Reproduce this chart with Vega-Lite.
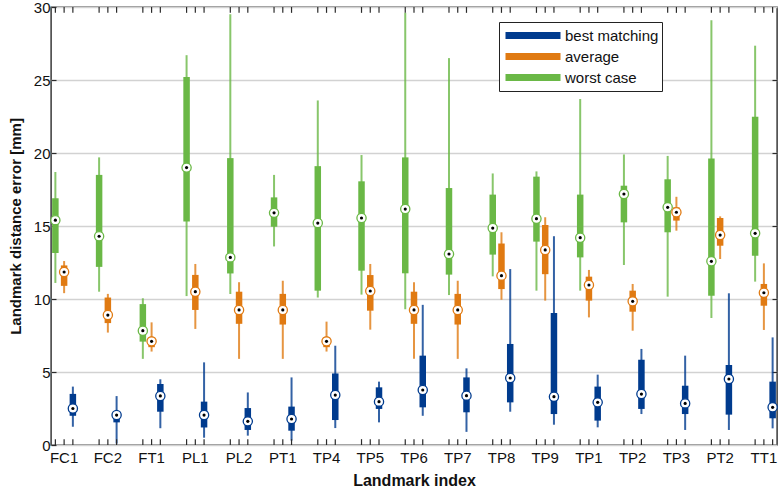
{
  "$schema": "https://vega.github.io/schema/vega-lite/v6.json",
  "width": 726,
  "height": 438,
  "autosize": {"type": "none"},
  "padding": {"left": 51, "top": 7, "right": 3, "bottom": 46},
  "background": "white",
  "config": {
    "view": {"stroke": "#2b2b2b", "strokeWidth": 1.4},
    "font": "Liberation Sans",
    "axis": {"domain": false, "labelFont": "Liberation Sans", "titleFont": "Liberation Sans"}
  },
  "datasets": {
    "boxes": [
      {"lm": "FC1", "series": "worst case", "lo": 11.1, "q1": 13.15, "med": 15.4, "q3": 16.9, "hi": 18.7},
      {"lm": "FC1", "series": "average", "lo": 10.4, "q1": 10.9, "med": 11.85, "q3": 12.3, "hi": 12.6},
      {"lm": "FC1", "series": "best matching", "lo": 1.25, "q1": 2.0, "med": 2.5, "q3": 3.5, "hi": 4.0},
      {"lm": "FC2", "series": "worst case", "lo": 10.5, "q1": 12.2, "med": 14.3, "q3": 18.5, "hi": 19.7},
      {"lm": "FC2", "series": "average", "lo": 7.7, "q1": 8.35, "med": 8.9, "q3": 10.1, "hi": 10.35},
      {"lm": "FC2", "series": "best matching", "lo": 0.1, "q1": 1.55, "med": 2.05, "q3": 2.3, "hi": 3.35},
      {"lm": "FT1", "series": "worst case", "lo": 5.9, "q1": 7.08, "med": 7.83, "q3": 9.65, "hi": 10.05},
      {"lm": "FT1", "series": "average", "lo": 6.4, "q1": 6.7, "med": 7.1, "q3": 7.33, "hi": 8.4},
      {"lm": "FT1", "series": "best matching", "lo": 1.15, "q1": 2.28, "med": 3.36, "q3": 4.18, "hi": 4.5},
      {"lm": "PL1", "series": "worst case", "lo": 10.2, "q1": 15.3, "med": 19.0, "q3": 25.2, "hi": 26.7},
      {"lm": "PL1", "series": "average", "lo": 7.95, "q1": 9.25, "med": 10.5, "q3": 11.65, "hi": 12.4},
      {"lm": "PL1", "series": "best matching", "lo": 0.5, "q1": 1.2, "med": 2.05, "q3": 2.97, "hi": 5.66},
      {"lm": "PL2", "series": "worst case", "lo": 10.35, "q1": 11.75, "med": 12.85, "q3": 19.65, "hi": 29.5},
      {"lm": "PL2", "series": "average", "lo": 5.9, "q1": 8.3, "med": 9.25, "q3": 10.5, "hi": 11.15},
      {"lm": "PL2", "series": "best matching", "lo": 0.64, "q1": 1.03, "med": 1.62, "q3": 2.53, "hi": 3.6},
      {"lm": "PT1", "series": "worst case", "lo": 13.6, "q1": 14.95, "med": 15.9, "q3": 16.96, "hi": 18.5},
      {"lm": "PT1", "series": "average", "lo": 5.9, "q1": 8.25, "med": 9.25, "q3": 10.35, "hi": 11.25},
      {"lm": "PT1", "series": "best matching", "lo": 0.3, "q1": 0.98, "med": 1.78, "q3": 2.63, "hi": 4.63},
      {"lm": "TP4", "series": "worst case", "lo": 10.1, "q1": 10.57, "med": 15.2, "q3": 19.1, "hi": 23.6},
      {"lm": "TP4", "series": "average", "lo": 6.4, "q1": 6.7, "med": 7.1, "q3": 7.37, "hi": 8.45},
      {"lm": "TP4", "series": "best matching", "lo": 1.16, "q1": 1.71, "med": 3.42, "q3": 4.9, "hi": 6.8},
      {"lm": "TP5", "series": "worst case", "lo": 10.3, "q1": 11.94, "med": 15.55, "q3": 18.06, "hi": 19.86},
      {"lm": "TP5", "series": "average", "lo": 7.9, "q1": 9.2, "med": 10.55, "q3": 11.64, "hi": 12.4},
      {"lm": "TP5", "series": "best matching", "lo": 1.55, "q1": 2.47, "med": 2.97, "q3": 3.95, "hi": 4.34},
      {"lm": "TP6", "series": "worst case", "lo": 9.3, "q1": 11.76, "med": 16.16, "q3": 19.7, "hi": 29.6},
      {"lm": "TP6", "series": "average", "lo": 5.9, "q1": 8.3, "med": 9.25, "q3": 10.5, "hi": 11.15},
      {"lm": "TP6", "series": "best matching", "lo": 2.0, "q1": 2.58, "med": 3.77, "q3": 6.12, "hi": 9.6},
      {"lm": "TP7", "series": "worst case", "lo": 10.27, "q1": 11.67, "med": 13.08, "q3": 17.6, "hi": 26.5},
      {"lm": "TP7", "series": "average", "lo": 5.9, "q1": 8.25, "med": 9.25, "q3": 10.35, "hi": 11.25},
      {"lm": "TP7", "series": "best matching", "lo": 0.9, "q1": 2.24, "med": 3.38, "q3": 4.63, "hi": 5.25},
      {"lm": "TP8", "series": "worst case", "lo": 11.55, "q1": 13.04, "med": 14.86, "q3": 17.15, "hi": 18.6},
      {"lm": "TP8", "series": "average", "lo": 9.95, "q1": 10.68, "med": 11.6, "q3": 13.8, "hi": 14.57},
      {"lm": "TP8", "series": "best matching", "lo": 2.28, "q1": 2.92, "med": 4.59, "q3": 6.92, "hi": 12.05},
      {"lm": "TP9", "series": "worst case", "lo": 10.57, "q1": 13.93, "med": 15.5, "q3": 18.38, "hi": 18.74},
      {"lm": "TP9", "series": "average", "lo": 9.89, "q1": 11.7, "med": 13.36, "q3": 15.07, "hi": 15.6},
      {"lm": "TP9", "series": "best matching", "lo": 1.39, "q1": 2.12, "med": 3.31, "q3": 9.04, "hi": 14.3},
      {"lm": "TP1", "series": "worst case", "lo": 10.57, "q1": 12.85, "med": 14.2, "q3": 17.15, "hi": 23.7},
      {"lm": "TP1", "series": "average", "lo": 8.74, "q1": 9.89, "med": 10.96, "q3": 11.53, "hi": 11.99},
      {"lm": "TP1", "series": "best matching", "lo": 1.21, "q1": 1.67, "med": 2.92, "q3": 4.0, "hi": 4.82},
      {"lm": "TP2", "series": "worst case", "lo": 12.33, "q1": 15.25, "med": 17.19, "q3": 17.76, "hi": 19.9},
      {"lm": "TP2", "series": "average", "lo": 7.83, "q1": 9.13, "med": 9.84, "q3": 10.57, "hi": 11.03},
      {"lm": "TP2", "series": "best matching", "lo": 2.12, "q1": 2.47, "med": 3.49, "q3": 5.84, "hi": 6.58},
      {"lm": "TP3", "series": "worst case", "lo": 10.16, "q1": 14.57, "med": 16.28, "q3": 18.2, "hi": 19.8},
      {"lm": "TP3", "series": "average", "lo": 14.68, "q1": 15.37, "med": 15.94, "q3": 16.28, "hi": 17.0},
      {"lm": "TP3", "series": "best matching", "lo": 1.03, "q1": 2.12, "med": 2.85, "q3": 4.06, "hi": 6.12},
      {"lm": "PT2", "series": "worst case", "lo": 8.7, "q1": 10.23, "med": 12.58, "q3": 19.63, "hi": 29.1},
      {"lm": "PT2", "series": "average", "lo": 12.74, "q1": 13.65, "med": 14.38, "q3": 15.55, "hi": 15.66},
      {"lm": "PT2", "series": "best matching", "lo": 1.03, "q1": 2.08, "med": 4.52, "q3": 5.48, "hi": 10.39},
      {"lm": "TT1", "series": "worst case", "lo": 11.19, "q1": 12.97, "med": 14.5, "q3": 22.49, "hi": 27.35},
      {"lm": "TT1", "series": "average", "lo": 7.88, "q1": 9.54, "med": 10.43, "q3": 11.03, "hi": 12.44},
      {"lm": "TT1", "series": "best matching", "lo": 1.14, "q1": 1.83, "med": 2.58, "q3": 4.34, "hi": 7.37}
    ]
  },
  "data": {"name": "boxes"},
  "encoding": {
    "x": {
      "field": "lm", "type": "nominal", "sort": null,
      "scale": {"paddingInner": 0.4, "paddingOuter": 0},
      "axis": {
        "title": "Landmark index", "labelAngle": 0, "ticks": false, "grid": false,
        "labelFontSize": 15, "labelColor": "#111", "labelPadding": 5,
        "titleFontSize": 16, "titleFontWeight": "bold", "titleColor": "#111", "titlePadding": 7
      }
    },
    "xOffset": {
      "field": "series", "type": "nominal",
      "scale": {"domain": ["worst case", "average", "best matching"], "paddingInner": 0, "paddingOuter": 0}
    }
  },
  "layer": [
    {
      "mark": {"type": "rule", "strokeWidth": 2, "opacity": 0.8},
      "encoding": {
        "y": {
          "field": "lo", "type": "quantitative",
          "scale": {"domain": [0, 30], "nice": false, "zero": true},
          "axis": {
            "title": "Landmark distance error [mm]", "values": [0, 5, 10, 15, 20, 25, 30],
            "grid": true, "gridColor": "#d2d2d2", "gridWidth": 1.5,
            "tickSize": -5, "tickColor": "#2b2b2b", "tickWidth": 1.2,
            "labelFontSize": 15, "labelColor": "#111", "labelPadding": 6,
            "titleFontSize": 15, "titleFontWeight": "bold", "titleColor": "#111", "titlePadding": 10
          }
        },
        "y2": {"field": "hi"},
        "color": {
          "field": "series", "type": "nominal",
          "scale": {"domain": ["best matching", "average", "worst case"], "range": ["#003b8e", "#e07a12", "#6ab846"]},
          "legend": {
            "orient": "none", "legendX": 448, "legendY": 15, "title": null,
            "symbolType": "stroke", "symbolSize": 3025, "symbolStrokeWidth": 7,
            "clipHeight": 21, "rowPadding": 0, "labelOffset": 1,
            "labelFontSize": 15, "labelColor": "#111", "labelFont": "Liberation Sans",
            "padding": 3, "strokeColor": "#222", "fillColor": "white", "symbolOpacity": 1
          }
        }
      }
    },
    {
      "mark": {"type": "rule", "strokeWidth": 6.5, "strokeCap": "butt"},
      "encoding": {
        "y": {"field": "q1", "type": "quantitative", "axis": null},
        "y2": {"field": "q3"},
        "color": {"field": "series", "type": "nominal"}
      }
    },
    {
      "mark": {"type": "point", "shape": "circle", "filled": false, "fill": "white", "fillOpacity": 1, "size": 85, "strokeWidth": 1.3, "opacity": 1},
      "encoding": {
        "y": {"field": "med", "type": "quantitative", "axis": null},
        "color": {"field": "series", "type": "nominal"}
      }
    },
    {
      "mark": {"type": "point", "shape": "circle", "filled": true, "color": "black", "size": 10, "opacity": 1},
      "encoding": {
        "y": {"field": "med", "type": "quantitative", "axis": null}
      }
    },
    {
      "mark": {"type": "rule", "color": "#2b2b2b", "strokeWidth": 1.2},
      "encoding": {
        "y": {"datum": 0, "type": "quantitative", "axis": null},
        "y2": {"datum": 0.4}
      }
    },
    {
      "mark": {"type": "rule", "color": "#2b2b2b", "strokeWidth": 1.2},
      "encoding": {
        "y": {
          "datum": 29.6, "type": "quantitative",
          "axis": {"orient": "right", "title": null, "labels": false, "grid": false, "values": [5, 10, 15, 20, 25], "tickSize": -5, "tickColor": "#2b2b2b", "tickWidth": 1.2}
        },
        "y2": {"datum": 30}
      }
    }
  ],
  "resolve": {"axis": {"y": "independent"}}
}
